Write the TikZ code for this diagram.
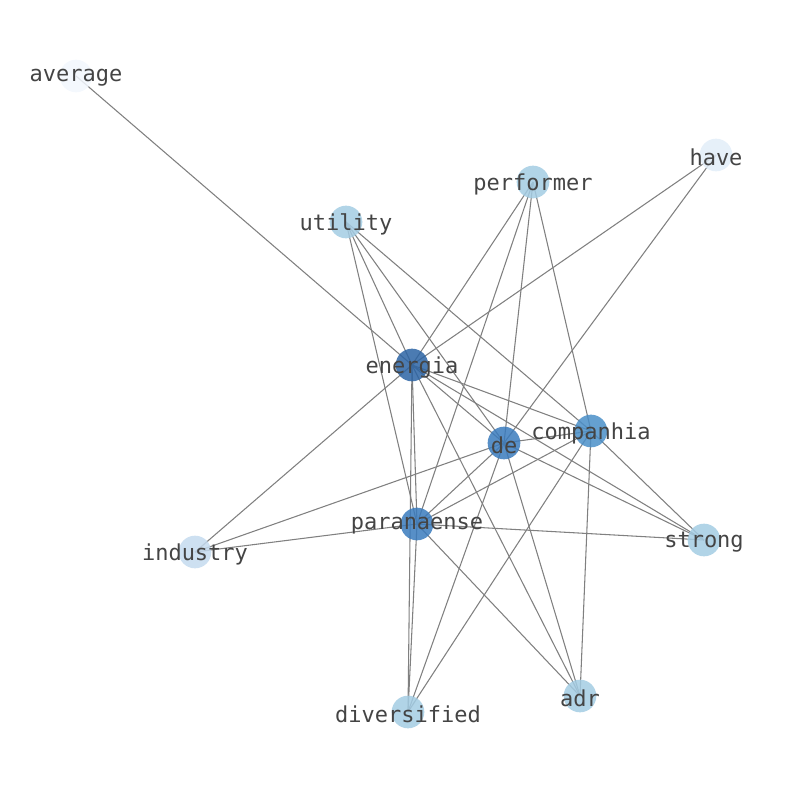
\documentclass[tikz,border=0pt]{standalone}
\usepackage{fontspec}
\setmonofont{DejaVu Sans Mono}
\usetikzlibrary{backgrounds}

\definecolor{edgegray}{HTML}{808080}
\definecolor{labelgray}{HTML}{444444}
\definecolor{cdark}{HTML}{2C64A4}
\definecolor{cmid}{HTML}{3A7BBD}
\definecolor{cmidlight}{HTML}{4A8FC8}
\definecolor{clight}{HTML}{A3CCE3}
\definecolor{cpale}{HTML}{C4DAEE}
\definecolor{cpaler}{HTML}{E2EDF8}
\definecolor{cpalest}{HTML}{F2F7FD}

\tikzset{
	vertex/.style={circle, inner sep=0pt, minimum size=24.5pt, draw=none, fill opacity=0.85},
	word/.style={font=\ttfamily\fontsize{16.5}{18}\selectfont, text=labelgray, inner sep=0pt, yshift=-1.5pt},
	link/.style={draw=edgegray, line width=0.8pt},
}

\begin{document}
\begin{tikzpicture}[x=0.75pt,y=-0.75pt]
	\useasboundingbox (0,0) rectangle (794,790);
	% nodes
	\node[vertex,fill=cpalest] (average) at (76,76) {};
	\node[vertex,fill=cpaler] (have) at (716,155) {};
	\node[vertex,fill=clight] (performer) at (533,182) {};
	\node[vertex,fill=clight] (utility) at (346,222) {};
	\node[vertex,fill=cdark] (energia) at (412,365) {};
	\node[vertex,fill=cmid] (de) at (504,443) {};
	\node[vertex,fill=cmidlight] (companhia) at (591,431) {};
	\node[vertex,fill=cmid] (paranaense) at (417,524) {};
	\node[vertex,fill=cpale] (industry) at (195,552) {};
	\node[vertex,fill=clight] (strong) at (704,540) {};
	\node[vertex,fill=clight] (diversified) at (408,712) {};
	\node[vertex,fill=clight] (adr) at (580,696) {};
	% edges
	\begin{scope}[on background layer]
		\foreach \b in {average,have,performer,utility,industry,paranaense,diversified,adr,de,companhia,strong}
			\draw[link] (energia.center) -- (\b.center);
		\foreach \b in {have,performer,utility,industry,paranaense,companhia,strong,adr,diversified}
			\draw[link] (de.center) -- (\b.center);
		\foreach \b in {utility,performer,paranaense,diversified,adr,strong}
			\draw[link] (companhia.center) -- (\b.center);
		\foreach \b in {utility,performer,industry,strong,adr,diversified}
			\draw[link] (paranaense.center) -- (\b.center);
	\end{scope}
	% labels
	\foreach \w in {average,have,performer,utility,energia,de,companhia,paranaense,industry,strong,diversified,adr}
		\node[word] (\w-text) at (\w) {\w};
\end{tikzpicture}
\end{document}
